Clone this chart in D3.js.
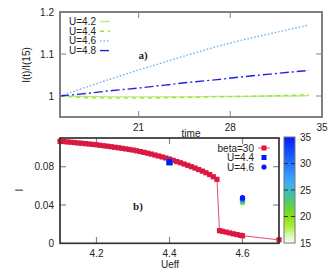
<!DOCTYPE html>
<html><head><meta charset="utf-8">
<script src="https://cdn.jsdelivr.net/npm/d3@7"></script>
<style>body{margin:0;background:#fff}svg{display:block}text{font-family:"Liberation Sans",Arial,sans-serif;font-size:10px;fill:#222}</style>
</head><body><svg id="c" width="334" height="275"></svg>
<script>
// ---- Panel a data ----
const times = [15, 17, 19, 21, 23, 25, 27, 29, 31, 33, 34];
const ratioU42 = [1.000, 0.999, 0.998, 0.998, 0.998, 0.998, 0.999, 0.999, 1.000, 1.000, 1.001];
const ratioU44 = [1.000, 0.996, 0.995, 0.995, 0.996, 0.997, 0.998, 0.999, 1.000, 1.002, 1.003];
const ratioU46 = [1.000, 1.021, 1.042, 1.062, 1.081, 1.100, 1.118, 1.134, 1.148, 1.162, 1.169];
const ratioU48 = [1.000, 1.006, 1.013, 1.019, 1.026, 1.033, 1.039, 1.046, 1.052, 1.058, 1.061];
const seriesA = [
  {name: "U=4.2", vals: ratioU42, color: "#b4ee7c", dash: null},
  {name: "U=4.4", vals: ratioU44, color: "#9ee23c", dash: "4,4"},
  {name: "U=4.6", vals: ratioU46, color: "#6aaefc", dash: "1.5,2"},
  {name: "U=4.8", vals: ratioU48, color: "#2222e6", dash: "9,3,2,3"}
];
const timeTicks = [21, 28, 35];
const ratioTicks = [1, 1.1, 1.2];

// ---- Panel b data ----
const ueffBeta = [4.10,4.11,4.12,4.13,4.14,4.15,4.16,4.17,4.18,4.19,4.20,4.21,4.22,4.23,4.24,4.25,4.26,4.27,4.28,4.29,4.30,4.31,4.32,4.33,4.34,4.35,4.36,4.37,4.38,4.39,4.40,4.41,4.42,4.43,4.44,4.45,4.46,4.47,4.48,4.49,4.50,4.51,4.52,4.53,4.537,4.545,4.555,4.565,4.575,4.585,4.595,4.60,4.70];
const iBeta = [0.1066,0.1063,0.1059,0.1056,0.1052,0.1048,0.1045,0.1041,0.1037,0.1033,0.1029,0.1024,0.1019,0.1014,0.1009,0.1003,0.0998,0.0992,0.0986,0.0980,0.0974,0.0966,0.0958,0.0950,0.0941,0.0932,0.0922,0.0912,0.0902,0.0891,0.0880,0.0867,0.0854,0.0841,0.0828,0.0815,0.0800,0.0786,0.0770,0.0754,0.0737,0.0718,0.0695,0.0668,0.0132,0.0125,0.0117,0.0108,0.0099,0.0091,0.0083,0.0079,0.0036];
const timesU44 = [15, 20, 25, 30, 35];
const iU44 = [0.0848, 0.0846, 0.0846, 0.0847, 0.0848];
const timesU46 = [17, 19, 21, 23, 25, 27, 29, 31, 33, 35];
const iU46 = [0.0420, 0.0426, 0.0433, 0.0440, 0.0446, 0.0452, 0.0459, 0.0465, 0.0471, 0.0477];
const ueffTicks = [4.2, 4.4, 4.6];
const iTicks = [0, 0.04, 0.08];
const cbTicks = [15, 20, 25, 30, 35];
const paletteStops = [15, 16.5, 18, 20, 22, 24, 26, 28, 30, 32.5, 35];
const paletteColors = ["#f4fff0","#d8f8b0","#b0ee40","#86e014","#5cd24a","#40c4a0","#3eb2ee","#3296ff","#2272ff","#1448ff","#0418ff"];

const svg = d3.select("#c");
const pal = d3.scaleLinear().domain(paletteStops).range(paletteColors).interpolate(d3.interpolateRgb);

// ================= Panel a =================
const ax = d3.scaleLinear().domain([15, 35]).range([60, 322]);
const ay = d3.scaleLinear().domain([0.95, 1.2]).range([117, 12]);
const ga = svg.append("g");
timeTicks.forEach(t => {
  if (t < 35) {
    ga.append("line").attr("x1", ax(t)).attr("x2", ax(t)).attr("y1", 117).attr("y2", 111).attr("stroke", "#999").attr("stroke-width", 1.2);
    ga.append("line").attr("x1", ax(t)).attr("x2", ax(t)).attr("y1", 12).attr("y2", 18).attr("stroke", "#999").attr("stroke-width", 1.2);
  }
  ga.append("text").attr("x", ax(t)).attr("y", 131).attr("text-anchor", "middle").text(t);
});
ratioTicks.forEach(v => {
  if (v < 1.2) {
    ga.append("line").attr("x1", 60).attr("x2", 66).attr("y1", ay(v)).attr("y2", ay(v)).attr("stroke", "#999").attr("stroke-width", 1.2);
    ga.append("line").attr("x1", 322).attr("x2", 316).attr("y1", ay(v)).attr("y2", ay(v)).attr("stroke", "#999").attr("stroke-width", 1.2);
  }
  ga.append("text").attr("x", 54).attr("y", ay(v) + 3.5).attr("text-anchor", "end").text(d3.format("")(v));
});
const lineA = d3.line().x((d, i) => ax(times[i])).y(d => ay(d));
seriesA.forEach(s => {
  ga.append("path").attr("d", lineA(s.vals)).attr("fill", "none").attr("stroke", s.color)
    .attr("stroke-width", 1.4).attr("stroke-dasharray", s.dash);
});
ga.append("rect").attr("x", 60).attr("y", 12).attr("width", 262).attr("height", 105).attr("fill", "none").attr("stroke", "#808080").attr("stroke-width", 2);
seriesA.forEach((s, i) => {
  const y = 21.5 + i * 9.7;
  ga.append("text").attr("x", 96).attr("y", y + 3.5).attr("text-anchor", "end").text(s.name);
  ga.append("line").attr("x1", 100).attr("x2", 110).attr("y1", y).attr("y2", y).attr("stroke", s.color).attr("stroke-width", 1.4).attr("stroke-dasharray", s.dash);
});
ga.append("text").attr("x", 143).attr("y", 59).attr("text-anchor", "middle").style("font-family", "'Liberation Serif',serif").style("font-weight", "bold").style("font-size", "11px").text("a)");
ga.append("text").attr("transform", "translate(30,65) rotate(-90)").attr("text-anchor", "middle").text("I(t)/I(15)");
ga.append("text").attr("x", 191).attr("y", 137).attr("text-anchor", "middle").text("time");

// ================= Panel b =================
const bx = d3.scaleLinear().domain([4.1, 4.7]).range([60, 279]);
const by = d3.scaleLinear().domain([0, 0.11]).range([243.3, 138]);
const gb = svg.append("g");
ueffTicks.forEach(t => {
  gb.append("line").attr("x1", bx(t)).attr("x2", bx(t)).attr("y1", 243).attr("y2", 237).attr("stroke", "#888").attr("stroke-width", 1.2);
  gb.append("line").attr("x1", bx(t)).attr("x2", bx(t)).attr("y1", 138).attr("y2", 144).attr("stroke", "#888").attr("stroke-width", 1.2);
  gb.append("text").attr("x", bx(t)).attr("y", 256.5).attr("text-anchor", "middle").text(t.toFixed(1));
});
iTicks.forEach(v => {
  if (v > 0) {
    gb.append("line").attr("x1", 60).attr("x2", 66).attr("y1", by(v)).attr("y2", by(v)).attr("stroke", "#888").attr("stroke-width", 1.2);
    gb.append("line").attr("x1", 279).attr("x2", 273).attr("y1", by(v)).attr("y2", by(v)).attr("stroke", "#888").attr("stroke-width", 1.2);
  }
  gb.append("text").attr("x", 54).attr("y", by(v) + 3.5).attr("text-anchor", "end").text(v === 0 ? "0" : v.toFixed(2));
});
const lineB = d3.line().x((d, i) => bx(ueffBeta[i])).y(d => by(d));
gb.append("path").attr("d", lineB(iBeta)).attr("fill", "none").attr("stroke", "#e0506e").attr("stroke-width", 1);
gb.selectAll("rect.beta").data(iBeta).enter().append("rect").attr("class", "beta")
  .attr("x", (d, i) => bx(ueffBeta[i]) - 2.6).attr("y", d => by(d) - 2.6).attr("width", 5.2).attr("height", 5.2).attr("fill", "#dc1742");
gb.selectAll("rect.u44").data(iU44).enter().append("rect").attr("class", "u44")
  .attr("x", bx(4.4) - 3).attr("y", d => by(d) - 3).attr("width", 6).attr("height", 6).attr("fill", (d, i) => pal(timesU44[i]));
gb.selectAll("circle.u46").data(iU46).enter().append("circle")
  .attr("cx", bx(4.6)).attr("cy", d => by(d)).attr("r", 2.6).attr("fill", (d, i) => pal(timesU46[i]));
gb.append("rect").attr("x", 60).attr("y", 138).attr("width", 219).attr("height", 105.3).attr("fill", "none").attr("stroke", "#333").attr("stroke-width", 1.7);
const legB = [{t: "beta=30", y: 148}, {t: "U=4.4", y: 157.5}, {t: "U=4.6", y: 167}];
legB.forEach(l => gb.append("text").attr("x", 254).attr("y", l.y + 3.5).attr("text-anchor", "end").text(l.t));
gb.append("line").attr("x1", 258).attr("x2", 270).attr("y1", 148).attr("y2", 148).attr("stroke", "#e0506e").attr("stroke-width", 1);
gb.append("rect").attr("x", 261.5).attr("y", 145.5).attr("width", 5).attr("height", 5).attr("fill", "#dc1742");
gb.append("rect").attr("x", 261.5).attr("y", 155).attr("width", 5).attr("height", 5).attr("fill", pal(35));
gb.append("circle").attr("cx", 264).attr("cy", 167).attr("r", 2.6).attr("fill", pal(35));
gb.append("text").attr("x", 138).attr("y", 210).attr("text-anchor", "middle").style("font-family", "'Liberation Serif',serif").style("font-weight", "bold").style("font-size", "11px").text("b)");
gb.append("text").attr("transform", "translate(23,190) rotate(-90)").attr("text-anchor", "middle").text("I");
gb.append("text").attr("x", 170).attr("y", 268).attr("text-anchor", "middle").text("Ueff");

// ================= Colorbar =================
const cy = d3.scaleLinear().domain([15, 35]).range([243, 137]);
const defs = svg.append("defs");
const grad = defs.append("linearGradient").attr("id", "cb").attr("x1", 0).attr("y1", 1).attr("x2", 0).attr("y2", 0);
paletteStops.forEach((s, i) => grad.append("stop").attr("offset", (s - 15) / 20).attr("stop-color", paletteColors[i]));
svg.append("rect").attr("x", 284).attr("y", 137).attr("width", 11).attr("height", 106).attr("fill", "url(#cb)").attr("stroke", "#777").attr("stroke-width", 1);
cbTicks.forEach(t => {
  if (t > 15 && t < 35) {
    svg.append("line").attr("x1", 284).attr("x2", 288).attr("y1", cy(t)).attr("y2", cy(t)).attr("stroke", "#333").attr("stroke-width", 1);
    svg.append("line").attr("x1", 291).attr("x2", 295).attr("y1", cy(t)).attr("y2", cy(t)).attr("stroke", "#333").attr("stroke-width", 1);
  }
  svg.append("text").attr("x", 300).attr("y", cy(t) + 3.5).text(t);
});
</script></body></html>
